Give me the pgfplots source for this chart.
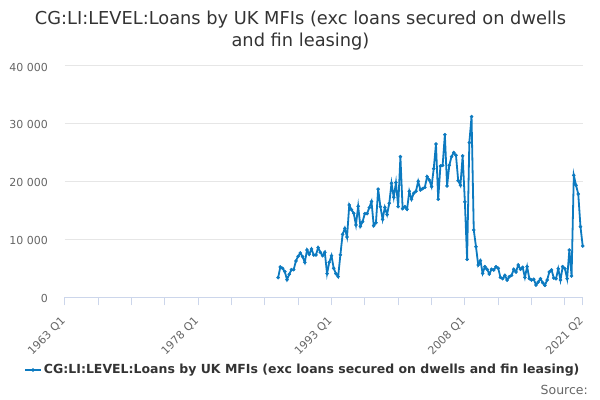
\documentclass[border=0pt]{standalone}
\usepackage{fontspec}
\setmainfont{DejaVu Sans}
\usepackage{pgfplots}
\pgfplotsset{compat=1.18}
\definecolor{linecol}{RGB}{12,122,192}
\definecolor{gridcol}{HTML}{E6E6E6}
\definecolor{axiscol}{HTML}{CCD6EB}
\definecolor{tickcol}{HTML}{666666}
\definecolor{titlecol}{HTML}{333333}
\begin{document}
\begin{tikzpicture}
\useasboundingbox (-64.7bp,-102.7bp) rectangle (535.3bp,297.3bp);
\begin{axis}[
  anchor=south west, at={(0,0)},
  scale only axis, width=518bp, height=231.3bp,
  xmin=0, xmax=233, ymin=0, ymax=40000,
  clip=false,
  scaled y ticks=false,
  axis x line*=bottom, axis y line*=left,
  x axis line style={-, draw=axiscol, line width=1bp},
  y axis line style={draw=none},
  xtick={0,60,120,180,233},
  xticklabels={1963 Q1,1978 Q1,1993 Q1,2008 Q1,2021 Q2},
  minor xtick={15,30,45,75,90,105,135,150,165,195,210,225},
  ytick={0,10000,20000,30000,40000},
  yticklabels={0,10 000,20 000,30 000,40 000},
  xtick align=outside, ytick align=inside,
  major tick length=8bp, minor tick length=8bp,
  xtick style={draw=axiscol, line width=1bp},
  minor x tick style={draw=axiscol, line width=1bp},
  ytick style={draw=none},
  ymajorgrids, grid style={draw=gridcol, line width=1bp},
  yticklabel style={font=\fontsize{11bp}{13bp}\selectfont, text=tickcol, anchor=east, inner sep=0pt, xshift=-16.7bp, yshift=-1bp},
  xticklabel style={font=\fontsize{11bp}{13bp}\selectfont, text=tickcol, xshift=-1.2bp, yshift=-14bp, rotate=45, anchor=east, inner sep=0pt},
  legend style={draw=none, fill=none, at={(axis description cs:-0.0786,-0.3143)}, anchor=west, font=\bfseries\fontsize{12.5bp}{14bp}\selectfont, text=titlecol, inner sep=0pt},
  legend image code/.code={\draw[#1, mark repeat=2, mark phase=2] plot coordinates {(0bp,0bp) (8bp,0bp) (16bp,0bp)};},
]
\addplot[color=linecol, line width=1.8bp, mark=*, mark size=1.6bp, mark options={solid, fill=linecol, draw=linecol, line width=0.4bp}] coordinates {
(96,3400) (97,5240) (98,5010) (99,4440) (100,3050) (101,3975) (102,4780) (103,4780)
(104,6280) (105,7090) (106,7660) (107,7030) (108,6050) (109,8180) (110,7430) (111,8360)
(112,7320) (113,7320) (114,8590) (115,7780) (116,7200) (117,7780) (118,4090) (119,6050)
(120,7200) (121,5010) (122,4090) (123,3570) (124,7320) (125,10890) (126,11930) (127,10430)
(128,15970) (129,15160) (130,14530) (131,12510) (132,15740) (133,12280) (134,13090) (135,14470)
(136,14470) (137,15510) (138,16550) (139,12390) (140,12900) (141,18700)
(142,15680) (143,13490) (144,15560) (145,14300) (146,16260) (147,19720) (148,17290) (149,19830)
(150,15680) (151,24330) (152,15330) (153,15680) (154,15220) (155,18330) (156,16950) (157,17990)
(158,18330) (159,20060) (160,18560) (161,18790) (162,19020) (163,20870) (164,20290) (165,19140)
(166,22250) (167,26520) (168,16950) (169,22710) (170,22830) (171,28130) (172,19250) (173,22830)
(174,24330) (175,25020) (176,24560) (177,20180) (178,19370) (179,24450) (180,16490) (181,6570)
(182,26750) (183,31250) (184,11640) (185,8760) (186,5590) (187,6340)
(188,4140) (189,5300) (190,4840) (191,4030) (192,4840) (193,4720) (194,5300) (195,5010)
(196,3450) (197,3220) (198,3800) (199,2990) (200,3570) (201,3800) (202,4840) (203,4380)
(204,5590) (205,4840) (206,5180) (207,3450) (208,5300) (209,3220) (210,2990) (211,3110)
(212,2130) (213,2650) (214,3220) (215,2530) (216,2070) (217,2990) (218,4380) (219,4720)
(220,3340) (221,3220) (222,4950) (223,2990) (224,5300) (225,4950) (226,3220) (227,8180)
(228,3680) (229,21100) (230,19370) (231,17870) (232,12220) (233,8870)
};
\addlegendentry{CG:LI:LEVEL:Loans by UK MFIs (exc loans secured on dwells and fin leasing)}
\end{axis}
\node[anchor=base, font=\fontsize{17.8bp}{20bp}\selectfont, text=titlecol, inner sep=0pt] at (235.8bp,272.3bp) {CG:LI:LEVEL:Loans by UK MFIs (exc loans secured on dwells};
\node[anchor=base, font=\fontsize{17.8bp}{20bp}\selectfont, text=titlecol, inner sep=0pt] at (235.8bp,250.3bp) {and fin leasing)};
\node[anchor=base east, font=\fontsize{12.5bp}{14bp}\selectfont, text=tickcol, inner sep=0pt] at (523.3bp,-96.7bp) {Source:};
\end{tikzpicture}
\end{document}
